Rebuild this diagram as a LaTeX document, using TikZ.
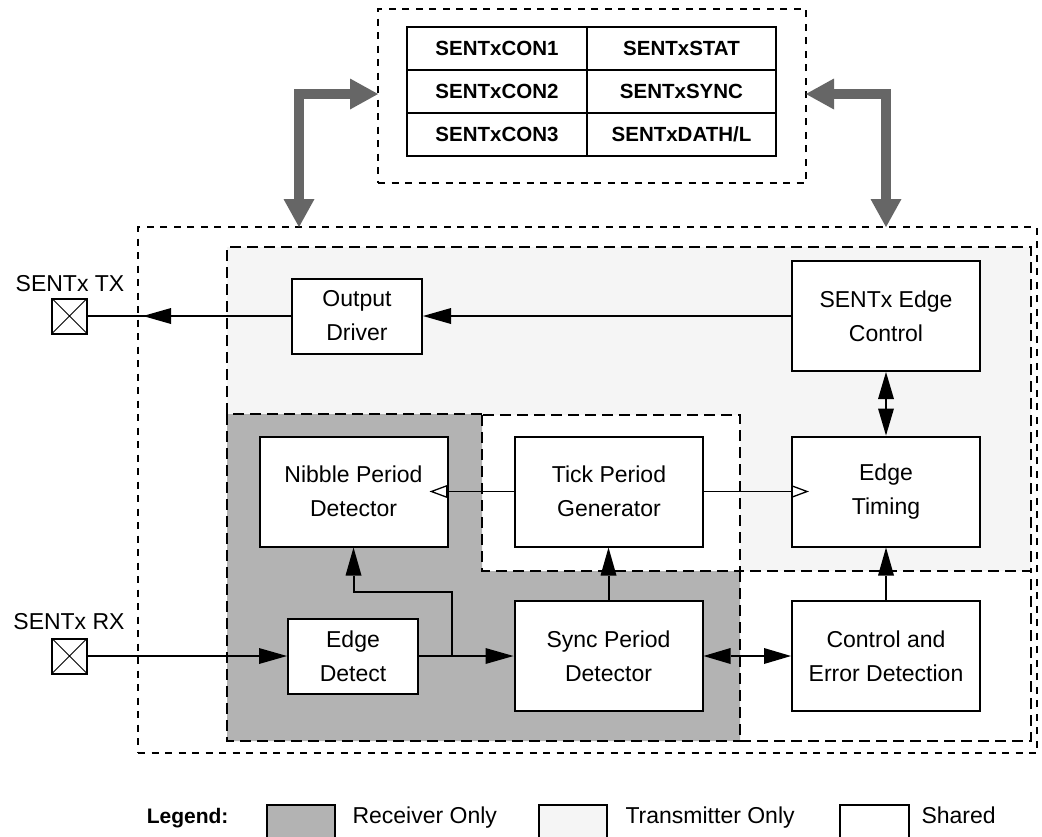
\documentclass[tikz,border=0pt]{standalone}
\usepackage{fontspec}
\setmainfont{Liberation Sans}
\usetikzlibrary{arrows.meta}
\definecolor{rxgray}{HTML}{B3B3B3}
\definecolor{txgray}{HTML}{F5F5F5}
\definecolor{busgray}{HTML}{666666}
\newcommand{\lblfont}{\fontsize{23}{34}\selectfont}
\newcommand{\regfont}{\fontsize{20.5}{24}\selectfont\bfseries}
\begin{document}
\begin{tikzpicture}[x=1pt,y=-1pt,
  box/.style={draw, line width=2pt, fill=white, minimum width=188pt, minimum height=110pt, align=center, font=\lblfont, inner sep=0pt},
  sbox/.style={box, minimum width=130pt, minimum height=75pt},
  cell/.style={draw, line width=2pt, minimum height=43pt, font=\regfont, inner sep=0pt},
  pin/.style={draw, line width=2pt, minimum size=35pt, inner sep=0pt, fill=white,
    path picture={\draw[line width=1pt] (path picture bounding box.north west) -- (path picture bounding box.south east) (path picture bounding box.north east) -- (path picture bounding box.south west);}},
  outerdash/.style={draw, line width=2pt, dash pattern=on 7pt off 6.5pt},
  regiondash/.style={line width=2pt, dash pattern=on 11pt off 6pt},
  conn/.style={line width=2pt, -{Triangle[length=28pt 0 0, width=16pt 0 0, line width=0pt 0 0]}},
  dconn/.style={line width=2pt, {Triangle[length=27pt 0 0, width=16pt 0 0, line width=0pt 0 0]}-{Triangle[length=27pt 0 0, width=16pt 0 0, line width=0pt 0 0]}},
  opentip/.style={line width=1.3pt, -{Triangle[open, length=18pt 0 0, width=13pt 0 0]}},
  bus/.style={line width=10pt, busgray, {Triangle[length=28pt 0 0, width=31pt 0 0, line width=0pt 0 0]}-{Triangle[length=28pt 0 0, width=31pt 0 0, line width=0pt 0 0]}},
  legbox/.style={draw, line width=2pt, minimum width=68pt, minimum height=42pt, anchor=north west, inner sep=0pt},
  legtext/.style={anchor=base west, font=\lblfont}
]
\useasboundingbox (0,0) rectangle (1042,836);
\clip (0,0) rectangle (1042,836);

% region fills
\fill[txgray] (227,247) -- (1031,247) -- (1031,571) -- (740,571) -- (740,415) -- (482,415) -- (482,414) -- (227,414) -- cycle;
\fill[rxgray] (227,414) -- (482,414) -- (482,571) -- (740,571) -- (740,741) -- (227,741) -- cycle;

% region borders
\draw[regiondash] (227,414) -- (227,247) -- (1031,247) -- (1031,571);
\draw[regiondash] (482,414) -- (227,414) -- (227,741) -- (740,741);
\draw[regiondash] (482,415) rectangle (740,571);
\draw[regiondash] (740,571) rectangle (1031,741);

% outer module box
\node[outerdash, minimum width=899pt, minimum height=526pt, inner sep=0pt] (module) at (587.5,490) {};

% register group
\node[outerdash, minimum width=428pt, minimum height=174pt, inner sep=0pt] (regs) at (592,96) {};
\node[cell, minimum width=180pt] (c11) at (497,48.5) {SENTxCON1};
\node[cell, minimum width=189pt] (c12) at (681.5,48.5) {SENTxSTAT};
\node[cell, minimum width=180pt] (c21) at (497,91.5) {SENTxCON2};
\node[cell, minimum width=189pt] (c22) at (681.5,91.5) {SENTxSYNC};
\node[cell, minimum width=180pt] (c31) at (497,134.5) {SENTxCON3};
\node[cell, minimum width=189pt] (c32) at (681.5,134.5) {SENTxDATH/L};

% bus arrows
\coordinate (busL) at (299,227);
\coordinate (busR) at (886,227);
\coordinate (regLin) at (378,94);
\coordinate (regRin) at (806,94);
\draw[bus] (busL) |- (regLin);
\draw[bus] (busR) |- (regRin);

% pins
\node[pin] (txpin) at (69.5,316) {};
\node[anchor=base, font=\lblfont] (txlbl) at (70,291) {SENTx TX};
\node[pin] (rxpin) at (69.5,656) {};
\node[anchor=base, font=\lblfont] (rxlbl) at (69,629) {SENTx RX};

% blocks
\node[sbox] (od) at (357,316) {Output\\Driver};
\node[box] (ec) at (886,316) {SENTx Edge\\Control};
\node[box] (nib) at (353.5,491.5) {Nibble Period\\Detector};
\node[box] (tick) at (609,491.5) {Tick Period\\Generator};
\node[box] (et) at (886,491.5) {Edge\\Timing};
\node[sbox] (ed) at (353,656) {Edge\\Detect};
\node[box] (sync) at (608.5,656) {Sync Period\\Detector};
\node[box] (ctl) at (886,656) {Control and\\Error Detection};

% connectors
\coordinate (txtip) at (143,316);
\draw[line width=2pt] (od.west) -- (txpin.east);
\draw[conn] (od.west) -- (txtip);
\draw[conn] (ec.west) -- (od.east);
\draw[dconn] (ec.south) -- (et.north);
\draw[opentip, shorten >=-18pt] (tick.east) -- (et.west);
\draw[opentip, shorten >=-19pt] (tick.west) -- (nib.east);
\draw[conn] (sync.north) -- (sync.north |- tick.south);
\draw[conn] (ctl.north) -- (et.south);
\draw[dconn] (sync.east) -- (ctl.west);
\draw[conn] (rxpin.east) -- (ed.west);
\draw[conn] (ed.east) -- (sync.west);
\coordinate (br) at (452,656);
\coordinate (brtop) at (452,592);
\draw[conn] (br) -- (brtop) -| (nib.south);

% legend
\node[anchor=base east, font=\fontsize{21}{25}\selectfont\bfseries] (legtitle) at (232,823) {Legend:};
\node[legbox, fill=rxgray] (legrx) at (266,804) {};
\node[legtext] (legrxt) at (349,823) {Receiver Only};
\node[legbox, fill=txgray] (legtx) at (538,804) {};
\node[legtext] (legtxt) at (622,823) {Transmitter Only};
\node[legbox, fill=white, minimum width=69pt] (legsh) at (839,804) {};
\node[legtext] (legsht) at (918,823) {Shared};
\end{tikzpicture}
\end{document}
